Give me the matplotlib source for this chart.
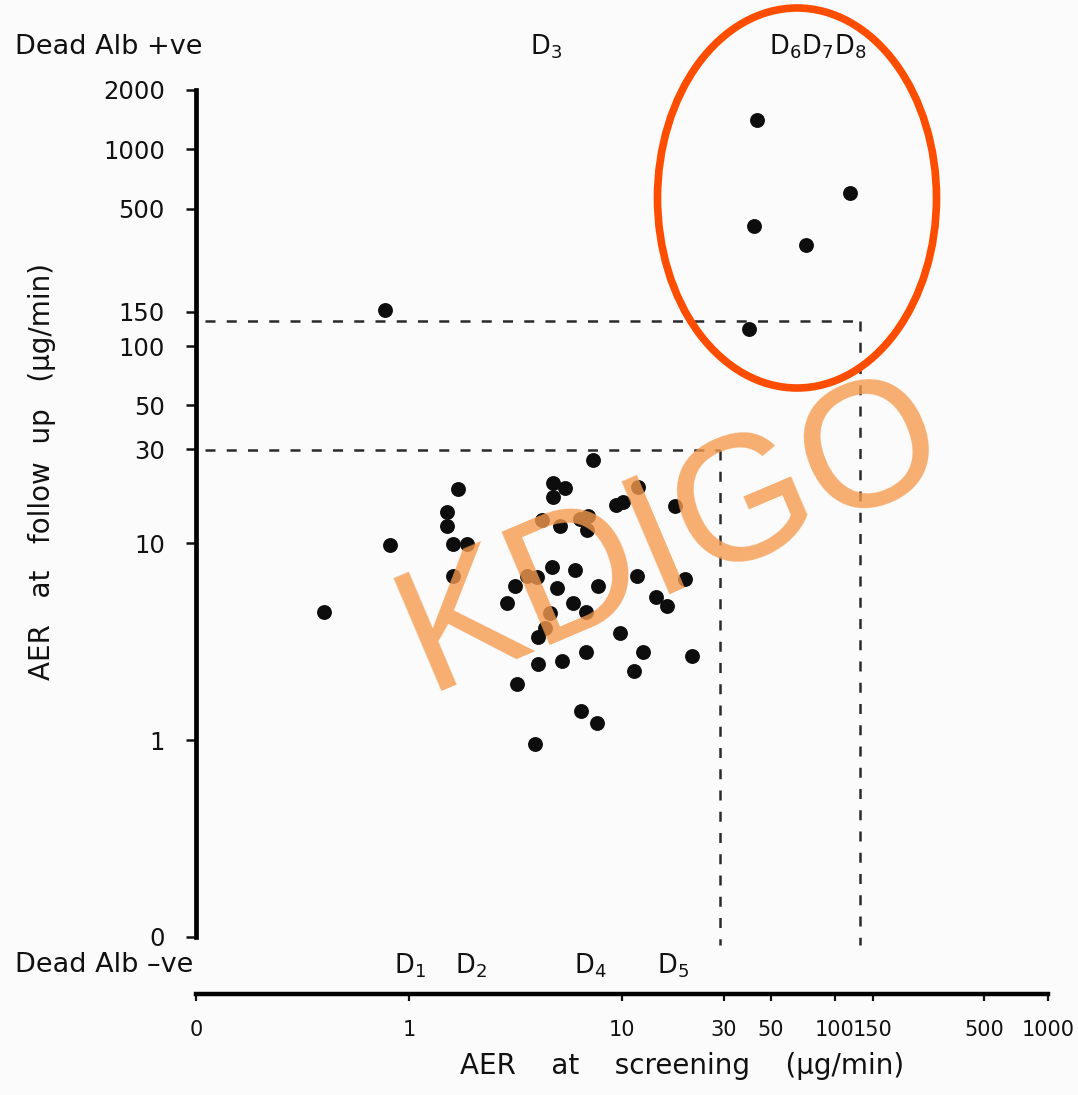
import matplotlib
matplotlib.use("Agg")
import matplotlib.pyplot as plt
from matplotlib.patches import Ellipse
import matplotlib.transforms as mtransforms

# ---------------- data ----------------
screen_aer = [7.33, 1.70, 4.76, 5.40, 4.72, 11.9, 9.37, 10.1, 17.7, 1.50,
              1.50, 4.20, 5.11, 6.34, 6.95, 6.88, 1.61, 1.87, 0.81, 1.61,
              11.7, 19.8, 4.68, 6.03, 7.74, 3.97, 3.57, 3.14, 4.93, 2.87,
              5.91, 6.81, 4.59, 14.5, 16.2, 4.35, 4.04, 0.40, 9.79, 6.81,
              12.6, 21.4, 4.04, 5.21, 11.4, 3.20, 6.45, 7.61, 3.90,
              0.77, 43.2, 117.5, 41.8, 72.8, 39.5]
follow_aer = [26.4, 18.8, 20.1, 19.1, 17.1, 19.3, 15.6, 16.2, 15.5, 14.4,
              12.2, 13.1, 12.2, 13.3, 13.8, 11.6, 9.9, 9.9, 9.8, 6.8,
              6.8, 6.6, 7.6, 7.3, 6.07, 6.7, 6.8, 6.07, 5.93, 4.94,
              4.94, 4.48, 4.40, 5.34, 4.81, 3.69, 3.35, 4.48, 3.48, 2.79,
              2.81, 2.68, 2.43, 2.53, 2.25, 1.92, 1.41, 1.22, 0.96,
              152, 1416, 603, 410, 328, 121.6]

# deaths: labels and screening AER (left edge of label)
dead_pos_labels = ["D$_3$", "D$_6$", "D$_7$", "D$_8$"]
dead_pos_x = [3.70, 49.0, 69.5, 98.9]
dead_neg_labels = ["D$_1$", "D$_2$", "D$_4$", "D$_5$"]
dead_neg_x = [0.85, 1.64, 5.96, 14.6]

# threshold boxes (as drawn)
thr_low = [28.8, 29.6]     # x, y of 30 box
thr_high = [131, 134]      # x, y of 150 box

yticks = [0.1, 1, 10, 30, 50, 100, 150, 500, 1000, 2000]
yticklabels = ["0", "1", "10", "30", "50", "100", "150", "500", "1000", "2000"]
xticks = [0.1, 1, 10, 30, 50, 100, 150, 500, 1000]
xticklabels = ["0", "1", "10", "30", "50", "100", "150", "500", "1000"]

# ---------------- figure ----------------
plt.rcParams["font.family"] = ["DejaVu Sans"]
plt.rcParams["mathtext.default"] = "regular"

W, H = 1078, 1095
fig = plt.figure(figsize=(W / 100, H / 100), dpi=100, facecolor="#fbfbfb")


def fx(px):
    return px / W


def fy(py):
    return 1 - py / H


TXT = "#111111"

ax = fig.add_axes([fx(196), fy(937), fx(1048) - fx(196), fy(90) - fy(937)])
ax.set_facecolor("none")
ax.set_xscale("log")
ax.set_yscale("log")
ax.set_xlim(0.1, 1000)
ax.set_ylim(0.1, 2000)

for s in ["top", "right"]:
    ax.spines[s].set_visible(False)
ax.spines["left"].set_linewidth(3.4)
ax.spines["bottom"].set_linewidth(3.2)
ax.spines["bottom"].set_position(("outward", 41))

ax.minorticks_off()
ax.set_yticks(yticks)
ax.set_yticklabels(yticklabels)
ax.set_xticks(xticks)
ax.set_xticklabels(xticklabels)
ax.tick_params(axis="y", direction="out", length=7.5, width=1.8, pad=15,
               labelsize=17.5, colors=TXT)
ax.tick_params(axis="x", direction="out", length=5, width=1.6, pad=14,
               labelsize=15, colors=TXT)

# dashed threshold lines
dash_kw = dict(color="#2a2a2a", lw=1.8, dashes=(4, 4.5), clip_on=False)
ax.plot([0.11, thr_low[0]], [thr_low[1], thr_low[1]], **dash_kw)
ax.plot([thr_low[0], thr_low[0]], [thr_low[1], 0.091], **dash_kw)
ax.plot([0.11, thr_high[0]], [thr_high[1], thr_high[1]], **dash_kw)
ax.plot([thr_high[0], thr_high[0]], [thr_high[1], 0.091], **dash_kw)

# data points
ax.scatter(screen_aer, follow_aer, s=115, color="#0d0d0d", zorder=5,
           linewidths=0, clip_on=False)

# death labels
trans = mtransforms.blended_transform_factory(ax.transData, fig.transFigure)
for lab, x in zip(dead_pos_labels, dead_pos_x):
    fig.text(x, fy(47), lab, transform=trans, fontsize=18.5, ha="left",
             va="center", color=TXT)
for lab, x in zip(dead_neg_labels, dead_neg_x):
    fig.text(x, fy(966), lab, transform=trans, fontsize=18.5, ha="left",
             va="center", color=TXT)

fig.text(fx(15), fy(47), "Dead Alb +ve", fontsize=19.5, ha="left",
         va="center", color=TXT)
fig.text(fx(15), fy(965), "Dead Alb \u2013ve", fontsize=19.5, ha="left",
         va="center", color=TXT)

# axis titles
fig.text(fx(682), fy(1066), "AER    at    screening    (\u03bcg/min)",
         fontsize=20, ha="center", va="center", color=TXT)
fig.text(fx(42), fy(472), "AER   at   follow  up   (\u03bcg/min)",
         fontsize=20, ha="center", va="center", rotation=90, color=TXT)

# highlight ellipse
ell = Ellipse((fx(797), fy(198)), fx(279), 380 / H, transform=fig.transFigure,
              fill=False, edgecolor="#FF4D00", lw=5.5, zorder=10)
fig.patches.append(ell)

# watermark
fig.text(fx(672), fy(537), "KDIGO", fontsize=128, family="Liberation Sans",
         rotation=23, rotation_mode="anchor", ha="center", va="center",
         color="#F59A4E", alpha=0.8, zorder=11)

fig.savefig("out.png", dpi=100, facecolor=fig.get_facecolor())
